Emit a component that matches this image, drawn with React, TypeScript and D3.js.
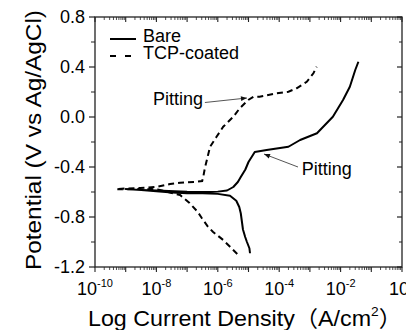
import * as d3 from "d3";

// Bare: cathodic branch (bottom -> Ecorr) then anodic branch
const bareCurrent = [
  1.12e-5, 1.07e-5, 8.9e-6, 7.8e-6, 6.6e-6, 6.2e-6, 5.6e-6, 5.0e-6, 4.0e-6, 2.5e-6,
  1.0e-6, 3.2e-7, 1.0e-7, 3.2e-8, 1.0e-8, 3.2e-9, 1.0e-9,
  3.2e-9, 1.0e-8, 1.0e-7, 3.2e-7, 1.0e-6, 2.0e-6, 3.2e-6, 4.5e-6, 5.6e-6, 7.9e-6,
  1.0e-5, 1.6e-5, 3.9e-5, 2.0e-4, 4.8e-4, 1.7e-3, 5.6e-3, 1.2e-2, 2.0e-2, 3.0e-2, 3.8e-2,
];
const barePotential = [
  -1.09, -1.05, -1.0, -0.96, -0.9, -0.85, -0.77, -0.72, -0.67, -0.63,
  -0.615, -0.61, -0.61, -0.605, -0.595, -0.585, -0.577,
  -0.583, -0.588, -0.598, -0.6, -0.597, -0.588, -0.56, -0.52, -0.48, -0.42,
  -0.36, -0.28, -0.264, -0.238, -0.184, -0.13, 0.002, 0.136, 0.242, 0.376, 0.442,
];

// TCP-coated
const tcpCurrent = [
  4.3e-6, 2.5e-6, 1.5e-6, 6.9e-7, 4.8e-7, 3.0e-7, 2.2e-7, 1.2e-7, 5.9e-8, 2.2e-8,
  1.1e-8, 3.0e-9, 4.8e-10,
  9.5e-10, 3.0e-9, 1.1e-8, 2.8e-8, 5.9e-8, 2.0e-7, 3.1e-7, 3.4e-7, 3.8e-7, 4.4e-7,
  5.6e-7, 9.1e-7, 1.5e-6, 3.2e-6, 5.2e-6, 9.8e-6, 1.45e-5, 2.3e-5, 8.3e-5, 2.0e-4,
  3.7e-4, 7.9e-4, 1.3e-3, 1.66e-3,
];
const tcpPotential = [
  -1.096, -1.038, -0.984, -0.918, -0.878, -0.808, -0.758, -0.688, -0.624, -0.598,
  -0.58, -0.576, -0.578,
  -0.572, -0.568, -0.558, -0.536, -0.526, -0.518, -0.512, -0.472, -0.408, -0.344,
  -0.238, -0.158, -0.078, 0.002, 0.07, 0.136, 0.162, 0.162, 0.19, 0.202,
  0.23, 0.282, 0.35, 0.402,
];

const seriesNames = ["Bare", "TCP-coated"];
const yTicks = [-1.2, -0.8, -0.4, 0.0, 0.4, 0.8];
const yMinor = [-1.0, -0.6, -0.2, 0.2, 0.6];
const decades = [-10, -9, -8, -7, -6, -5, -4, -3, -2, -1, 0];
const labelDecades = [-10, -8, -6, -4, -2, 0];

const FONT = "'Liberation Sans', Arial, 'Noto Sans CJK SC', sans-serif";

export default function App() {
  const W = 406;
  const H = 330;
  const m = { left: 95, right: 402, top: 17, bottom: 267 };

  const x = d3.scaleLog().domain([1e-10, 1]).range([m.left, m.right]);
  const y = d3.scaleLinear().domain([-1.2, 0.8]).range([m.bottom, m.top]);

  const line = d3
    .line<[number, number]>()
    .x((d) => x(d[0]))
    .y((d) => y(d[1]));

  const bare = bareCurrent.map((c, i) => [c, barePotential[i]] as [number, number]);
  const tcp = tcpCurrent.map((c, i) => [c, tcpPotential[i]] as [number, number]);

  const minor: number[] = [];
  decades.slice(0, -1).forEach((k) => {
    for (let j = 2; j <= 9; j++) minor.push(j * Math.pow(10, k));
  });

  const axisColor = "#222";

  return (
    <svg
      width={W}
      height={H}
      style={{ position: "absolute", left: 0, top: 0, background: "#fff" }}
      fontFamily={FONT}
    >
      <defs>
        <marker id="arrow" viewBox="0 0 10 10" refX="10" refY="5" markerWidth="8" markerHeight="6" orient="auto">
          <path d="M0,1 L10,5 L0,9 Z" fill="#111" />
        </marker>
      </defs>

      {/* frame */}
      <rect
        x={m.left}
        y={m.top}
        width={m.right - m.left}
        height={m.bottom - m.top}
        fill="none"
        stroke={axisColor}
        strokeWidth={1.3}
      />

      {/* y ticks: left outward, right inward */}
      {yTicks.map((t) => (
        <g key={"y" + t}>
          <line x1={m.left - 6} x2={m.left} y1={y(t)} y2={y(t)} stroke={axisColor} strokeWidth={1.2} />
          <line x1={m.right - 5} x2={m.right} y1={y(t)} y2={y(t)} stroke={axisColor} strokeWidth={1.2} />
          <text x={m.left - 10} y={y(t)} dy="0.36em" textAnchor="end" fontSize={18}>
            {t.toFixed(1)}
          </text>
        </g>
      ))}
      {yMinor.map((t) => (
        <g key={"ym" + t}>
          <line x1={m.left - 4} x2={m.left} y1={y(t)} y2={y(t)} stroke={axisColor} strokeWidth={1} />
          <line x1={m.right - 3} x2={m.right} y1={y(t)} y2={y(t)} stroke={axisColor} strokeWidth={1} />
        </g>
      ))}

      {/* x ticks: bottom outward, top inward */}
      {decades.map((k) => {
        const px = x(Math.pow(10, k));
        return (
          <g key={"x" + k}>
            <line x1={px} x2={px} y1={m.bottom} y2={m.bottom + 5} stroke={axisColor} strokeWidth={1.1} />
            <line x1={px} x2={px} y1={m.top} y2={m.top + 5} stroke={axisColor} strokeWidth={1.1} />
          </g>
        );
      })}
      {minor.map((v, i) => (
        <g key={"xm" + i}>
          <line x1={x(v)} x2={x(v)} y1={m.bottom} y2={m.bottom + 3} stroke={axisColor} strokeWidth={0.8} />
          <line x1={x(v)} x2={x(v)} y1={m.top} y2={m.top + 3} stroke={axisColor} strokeWidth={0.8} />
        </g>
      ))}
      {labelDecades.map((k) => (
        <text key={"xl" + k} x={x(Math.pow(10, k))} y={295} textAnchor="middle" fontSize={18}>
          10
          <tspan fontSize={11} dy={-8}>
            {k === 0 ? "0" : "-" + Math.abs(k)}
          </tspan>
        </text>
      ))}

      {/* axis titles */}
      <text x={88} y={326} fontSize={22} textLength={314} lengthAdjust="spacingAndGlyphs">
        Log Current Density（A/cm
        <tspan fontSize={13} dy={-10}>2</tspan>
        <tspan dy={10}>）</tspan>
      </text>
      <text
        transform={`translate(41,${140}) rotate(-90)`}
        textAnchor="middle"
        fontSize={22}
        textLength={260}
        lengthAdjust="spacingAndGlyphs"
      >
        Potential (V vs Ag/AgCl)
      </text>

      {/* curves */}
      <path d={line(bare) || ""} fill="none" stroke="#000" strokeWidth={2} strokeLinejoin="round" />
      <path d={line(tcp) || ""} fill="none" stroke="#000" strokeWidth={2} strokeDasharray="6 4" />

      {/* legend */}
      <line x1={110} x2={136} y1={39} y2={39} stroke="#000" strokeWidth={2} />
      <text x={143} y={42} fontSize={18}>{seriesNames[0]}</text>
      <line x1={110} x2={132} y1={56} y2={56} stroke="#000" strokeWidth={2} strokeDasharray="6 9" />
      <text x={143} y={58.5} fontSize={18}>{seriesNames[1]}</text>

      {/* annotations */}
      <text x={x(3.3e-7)} y={y(0.096)} textAnchor="end" fontSize={18}>Pitting</text>
      <line
        x1={x(3.8e-7)}
        y1={y(0.116)}
        x2={x(8.9e-6)}
        y2={y(0.152)}
        stroke="#555"
        strokeWidth={1}
        markerEnd="url(#arrow)"
      />
      <text x={x(5.4e-4)} y={y(-0.464)} fontSize={18}>Pitting</text>
      <line
        x1={x(4.1e-4)}
        y1={y(-0.4)}
        x2={x(3.2e-5)}
        y2={y(-0.296)}
        stroke="#555"
        strokeWidth={1}
        markerEnd="url(#arrow)"
      />
    </svg>
  );
}
